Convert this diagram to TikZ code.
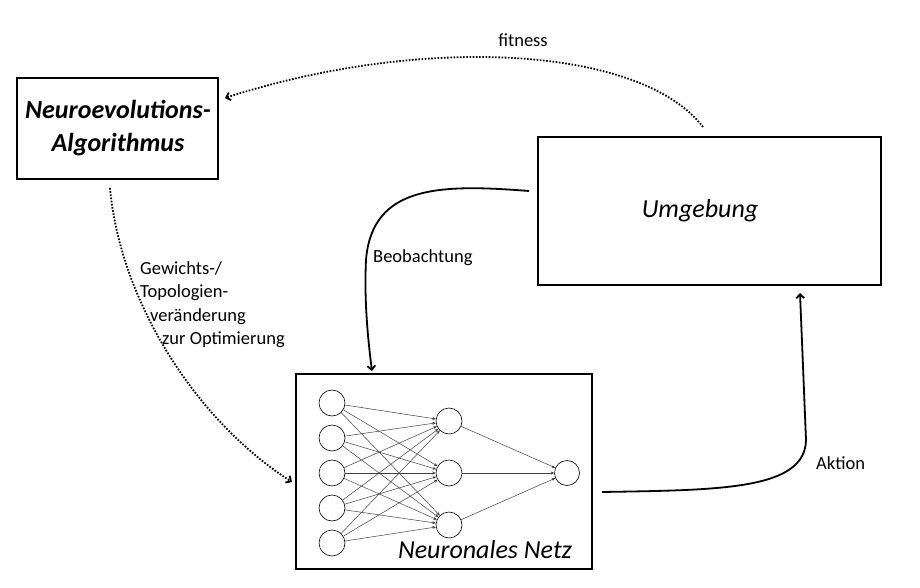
\documentclass[tikz,border=0pt]{standalone}
\usepackage{fontspec}
\setmainfont{Carlito}
\usetikzlibrary{arrows.meta}
\begin{document}
\begin{tikzpicture}[x=1pt,y=-1pt,
  box/.style={draw,line width=2pt,inner sep=0pt},
  title/.style={font=\fontsize{26}{34}\selectfont\itshape,align=center,inner sep=0pt},
  lbl/.style={font=\fontsize{18.5}{23.5}\selectfont,inner sep=0pt,align=left},
  neuron/.style={circle,draw,line width=0.6pt,minimum size=26pt,inner sep=0pt},
  syn/.style={line width=0.5pt,draw=black!75,-{Stealth[length=3.5pt,width=3pt]}},
  flow/.style={line width=1.8pt,-{Straight Barb[length=4pt,width=8pt]}},
  dflow/.style={line width=1.8pt,dash pattern=on 1.6pt off 1.6pt,-{Straight Barb[length=4pt,width=8pt]}}]
\useasboundingbox (0,0) rectangle (920,588);
\fill[white] (0,0) rectangle (920,588);

% boxes
\node[box,minimum width=201pt,minimum height=101pt] (nea) at (117.5,128.5) {};
\node[title,font=\fontsize{26}{33}\selectfont\bfseries\itshape] (neat) at (118,128) {Neuroevolutions-\\Algorithmus};
\node[box,minimum width=343pt,minimum height=148pt] (umg) at (709.5,211) {};
\node[title] (umgt) at (700,211) {Umgebung};
\node[box,minimum width=296pt,minimum height=195pt] (nn) at (444,471.5) {};
\node[title,anchor=base] (nnt) at (485,558) {Neuronales Netz};

% neurons
\foreach \i/\y in {1/403,2/438,3/473,4/508,5/543} \node[neuron] (i\i) at (332,\y) {};
\foreach \i/\y in {1/421,2/473,3/525} \node[neuron] (h\i) at (449,\y) {};
\node[neuron,minimum size=25pt] (o) at (567,473) {};
\foreach \a in {1,...,5} \foreach \b in {1,2,3} \draw[syn] (i\a) -- (h\b);
\foreach \b in {1,2,3} \draw[syn] (h\b) -- (o);

% connectors
\coordinate (fitS) at (703,127);
\coordinate (fitE) at (225,98);
\draw[dflow] (fitS) .. controls (640,45) and (420,35) .. (fitE);
\node[lbl] (fitl) at (523,40) {fitness};

\coordinate (gwS) at (110,188);
\coordinate (gwE) at (292,482);
\draw[dflow] (gwS) .. controls (120,300) and (195,420) .. (gwE);
\node[lbl,anchor=north west] (gwl) at (140,261) {Gewichts-/\\Topologien-\\\hspace*{10pt}veränderung\\\hspace*{22pt}zur Optimierung};

\coordinate (bS) at (529,191);
\coordinate (bM) at (366,260);
\coordinate (bE) at (372,371);
\draw[flow] (bS) .. controls (440,184) and (372,185) .. (bM) .. controls (364,300) and (368,340) .. (bE);
\node[lbl,anchor=west] (bl) at (373,258) {Beobachtung};

\coordinate (aS) at (602,492);
\coordinate (aM) at (806,440);
\coordinate (aE) at (800,293);
\draw[flow] (aS) .. controls (720,490) and (805,490) .. (aM) -- (aE);
\node[lbl,anchor=west] (al) at (816,463) {Aktion};
\end{tikzpicture}
\end{document}
